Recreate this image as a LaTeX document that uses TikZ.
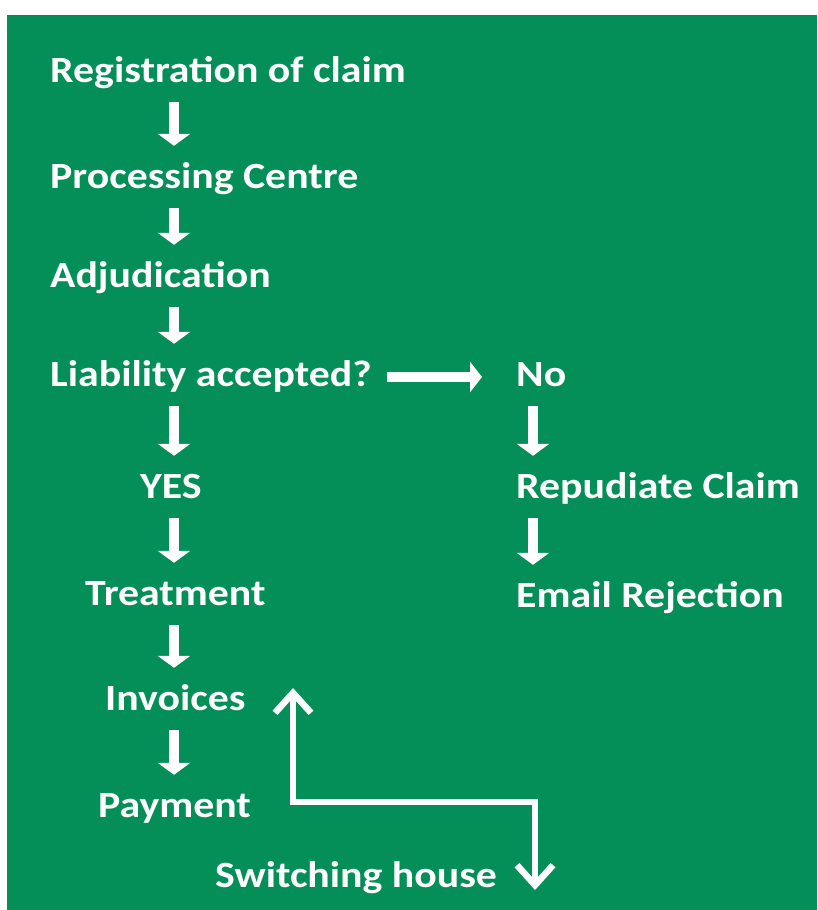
\documentclass[tikz,border=0pt]{standalone}
\usepackage{fontspec}
\setmainfont{Carlito}[FakeStretch=1.13]
\usetikzlibrary{arrows.meta}
\definecolor{claimgreen}{RGB}{3,143,87}

\begin{document}
\begin{tikzpicture}[x=1pt,y=-1pt,
    lbl/.style={anchor=base west,text=white,inner sep=0pt,text height=27pt,text depth=9pt,
        font=\fontsize{37}{40}\selectfont\bfseries},
    downarr/.style={white,line width=10pt,-{Triangle[width=32pt,length=12pt]},
        shorten <=11pt,shorten >=15pt},
    rightarr/.style={white,line width=10pt,-{Triangle[width=30pt,length=12pt]},
        shorten <=15pt,shorten >=34pt},
    returnline/.style={white,line width=6.5pt,
        {Straight Barb[width=36pt,length=20pt]}-{Straight Barb[width=36pt,length=20pt]}}]
    \useasboundingbox (0,0) rectangle (817,910);
    \fill[claimgreen] (7,15) rectangle (817,910);

    \coordinate (colL) at (174,0);
    \coordinate (colR) at (533,0);

    \node[lbl] (reg) at (50,82) {Registration of claim};
    \node[lbl] (proc) at (50,188) {Processing Centre};
    \node[lbl] (adj) at (50,287) {Adjudication};
    \node[lbl] (liab) at (50,386) {Liability accepted?};
    \node[lbl] (yes) at (140,498) {YES};
    \node[lbl] (treat) at (85,605) {Treatment};
    \node[lbl] (inv) at (105,710) {Invoices};
    \node[lbl] (pay) at (98,817) {Payment};
    \node[lbl] (switch) at (215,887) {Switching house};
    \node[lbl] (no) at (516,386) {No};
    \node[lbl] (rep) at (516,498) {Repudiate Claim};
    \node[lbl] (email) at (516,607) {Email Rejection};

    \draw[downarr] (reg.south -| colL) -- (proc.north -| colL);
    \draw[downarr] (proc.south -| colL) -- (adj.north -| colL);
    \draw[downarr] (adj.south -| colL) -- (liab.north -| colL);
    \draw[downarr] (liab.south -| colL) -- (yes.north -| colL);
    \draw[downarr] (yes.south -| colL) -- (treat.north -| colL);
    \draw[downarr] (treat.south -| colL) -- (inv.north -| colL);
    \draw[downarr] (inv.south -| colL) -- (pay.north -| colL);
    \draw[downarr] (no.south -| colR) -- (rep.north -| colR);
    \draw[downarr] (rep.south -| colR) -- (email.north -| colR);
    \draw[rightarr] (liab.east) -- (no.west);

    \coordinate (inTip) at (293,688);
    \coordinate (outTip) at (535,890);
    \coordinate (bend) at (0,802);
    \draw[returnline] (inTip) -- (inTip |- bend) -- (outTip |- bend) -- (outTip);
\end{tikzpicture}
\end{document}
